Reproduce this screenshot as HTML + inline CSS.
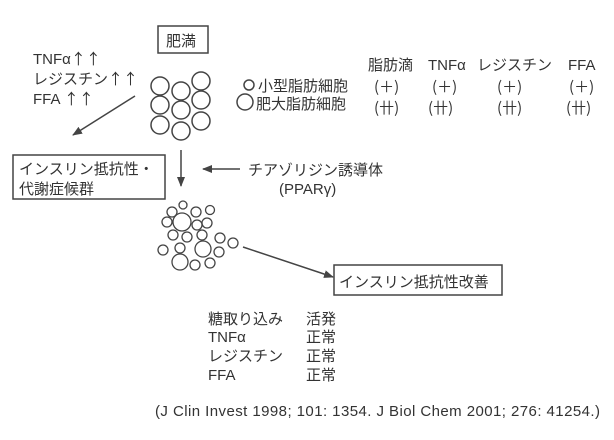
<!DOCTYPE html><html><head><meta charset="utf-8"><style>
body{margin:0;background:#fff}
svg text{font-family:"Liberation Sans","Noto Sans CJK JP",sans-serif;fill:#333;font-size:15px}
.j{font-family:"Noto Sans CJK JP",sans-serif}
</style></head><body>
<svg width="614" height="435" xmlns="http://www.w3.org/2000/svg">
<defs><marker id="a" markerWidth="10" markerHeight="8" refX="9" refY="4" orient="auto" markerUnits="userSpaceOnUse"><path d="M0,0L10,4L0,8z" fill="#444"/></marker></defs>
<g stroke="#444" fill="none" stroke-width="1.5">
<rect x="158" y="26" width="50" height="27"/>
<rect x="13" y="155" width="152" height="44"/>
<rect x="334" y="265" width="168" height="30"/>
<circle cx="160" cy="86" r="9"/><circle cx="181" cy="91" r="9"/><circle cx="201" cy="81" r="9"/>
<circle cx="160" cy="105" r="9"/><circle cx="181" cy="110" r="9"/><circle cx="201" cy="100" r="9"/>
<circle cx="160" cy="125" r="9"/><circle cx="181" cy="131" r="9"/><circle cx="201" cy="121" r="9"/>
<circle cx="249" cy="85" r="5"/><circle cx="245" cy="102" r="8"/>
<g stroke-width="1.3">
<circle cx="183" cy="205" r="4"/><circle cx="172" cy="212" r="5"/><circle cx="196" cy="212" r="5"/><circle cx="210" cy="210" r="4.5"/>
<circle cx="182" cy="222" r="9"/><circle cx="167" cy="222" r="5"/><circle cx="197" cy="225" r="5"/><circle cx="207" cy="223" r="5"/>
<circle cx="173" cy="235" r="5"/><circle cx="187" cy="237" r="5"/><circle cx="202" cy="235" r="5"/><circle cx="220" cy="238" r="5"/><circle cx="233" cy="243" r="5"/>
<circle cx="163" cy="250" r="5"/><circle cx="180" cy="248" r="5"/><circle cx="203" cy="249" r="8"/><circle cx="219" cy="252" r="5"/>
<circle cx="180" cy="262" r="8"/><circle cx="195" cy="265" r="5"/><circle cx="210" cy="263" r="5"/>
</g>
<line x1="135" y1="96" x2="73" y2="135" marker-end="url(#a)"/>
<line x1="181" y1="150" x2="181" y2="186" marker-end="url(#a)"/>
<line x1="240" y1="169" x2="203" y2="169" marker-end="url(#a)"/>
<line x1="243" y1="247" x2="333" y2="277" marker-end="url(#a)"/>
</g>
<text x="166" y="46" font-size="16">肥満</text>
<text x="33" y="64">TNFα<tspan class="j">↑↑</tspan></text>
<text x="33" y="84">レジスチン<tspan class="j">↑↑</tspan></text>
<text x="33" y="104">FFA <tspan class="j">↑↑</tspan></text>
<text x="258" y="91">小型脂肪細胞</text>
<text x="256" y="109">肥大脂肪細胞</text>
<text x="368" y="70">脂肪滴</text><text x="428" y="70">TNFα</text><text x="477" y="70">レジスチン</text><text x="568" y="70">FFA</text>
<g class="j"><text class="j" x="374" y="92">(＋)</text><text class="j" x="432" y="92">(＋)</text><text class="j" x="497" y="92">(＋)</text><text class="j" x="569" y="92">(＋)</text>
<text class="j" x="374" y="113">(卄)</text><text class="j" x="428" y="113">(卄)</text><text class="j" x="497" y="113">(卄)</text><text class="j" x="566" y="113">(卄)</text></g>
<text x="19" y="174">インスリン抵抗性・</text>
<text x="19" y="194">代謝症候群</text>
<text x="248" y="175">チアゾリジン誘導体</text>
<text x="279" y="194">(PPARγ)</text>
<text x="339" y="287">インスリン抵抗性改善</text>
<text x="208" y="324">糖取り込み</text><text x="306" y="324">活発</text>
<text x="208" y="342">TNFα</text><text x="306" y="342">正常</text>
<text x="208" y="361">レジスチン</text><text x="306" y="361">正常</text>
<text x="208" y="380">FFA</text><text x="306" y="380">正常</text>
<text x="155" y="416" font-size="15" textLength="445">(J Clin Invest 1998; 101: 1354. J Biol Chem 2001; 276: 41254.)</text>
</svg></body></html>
